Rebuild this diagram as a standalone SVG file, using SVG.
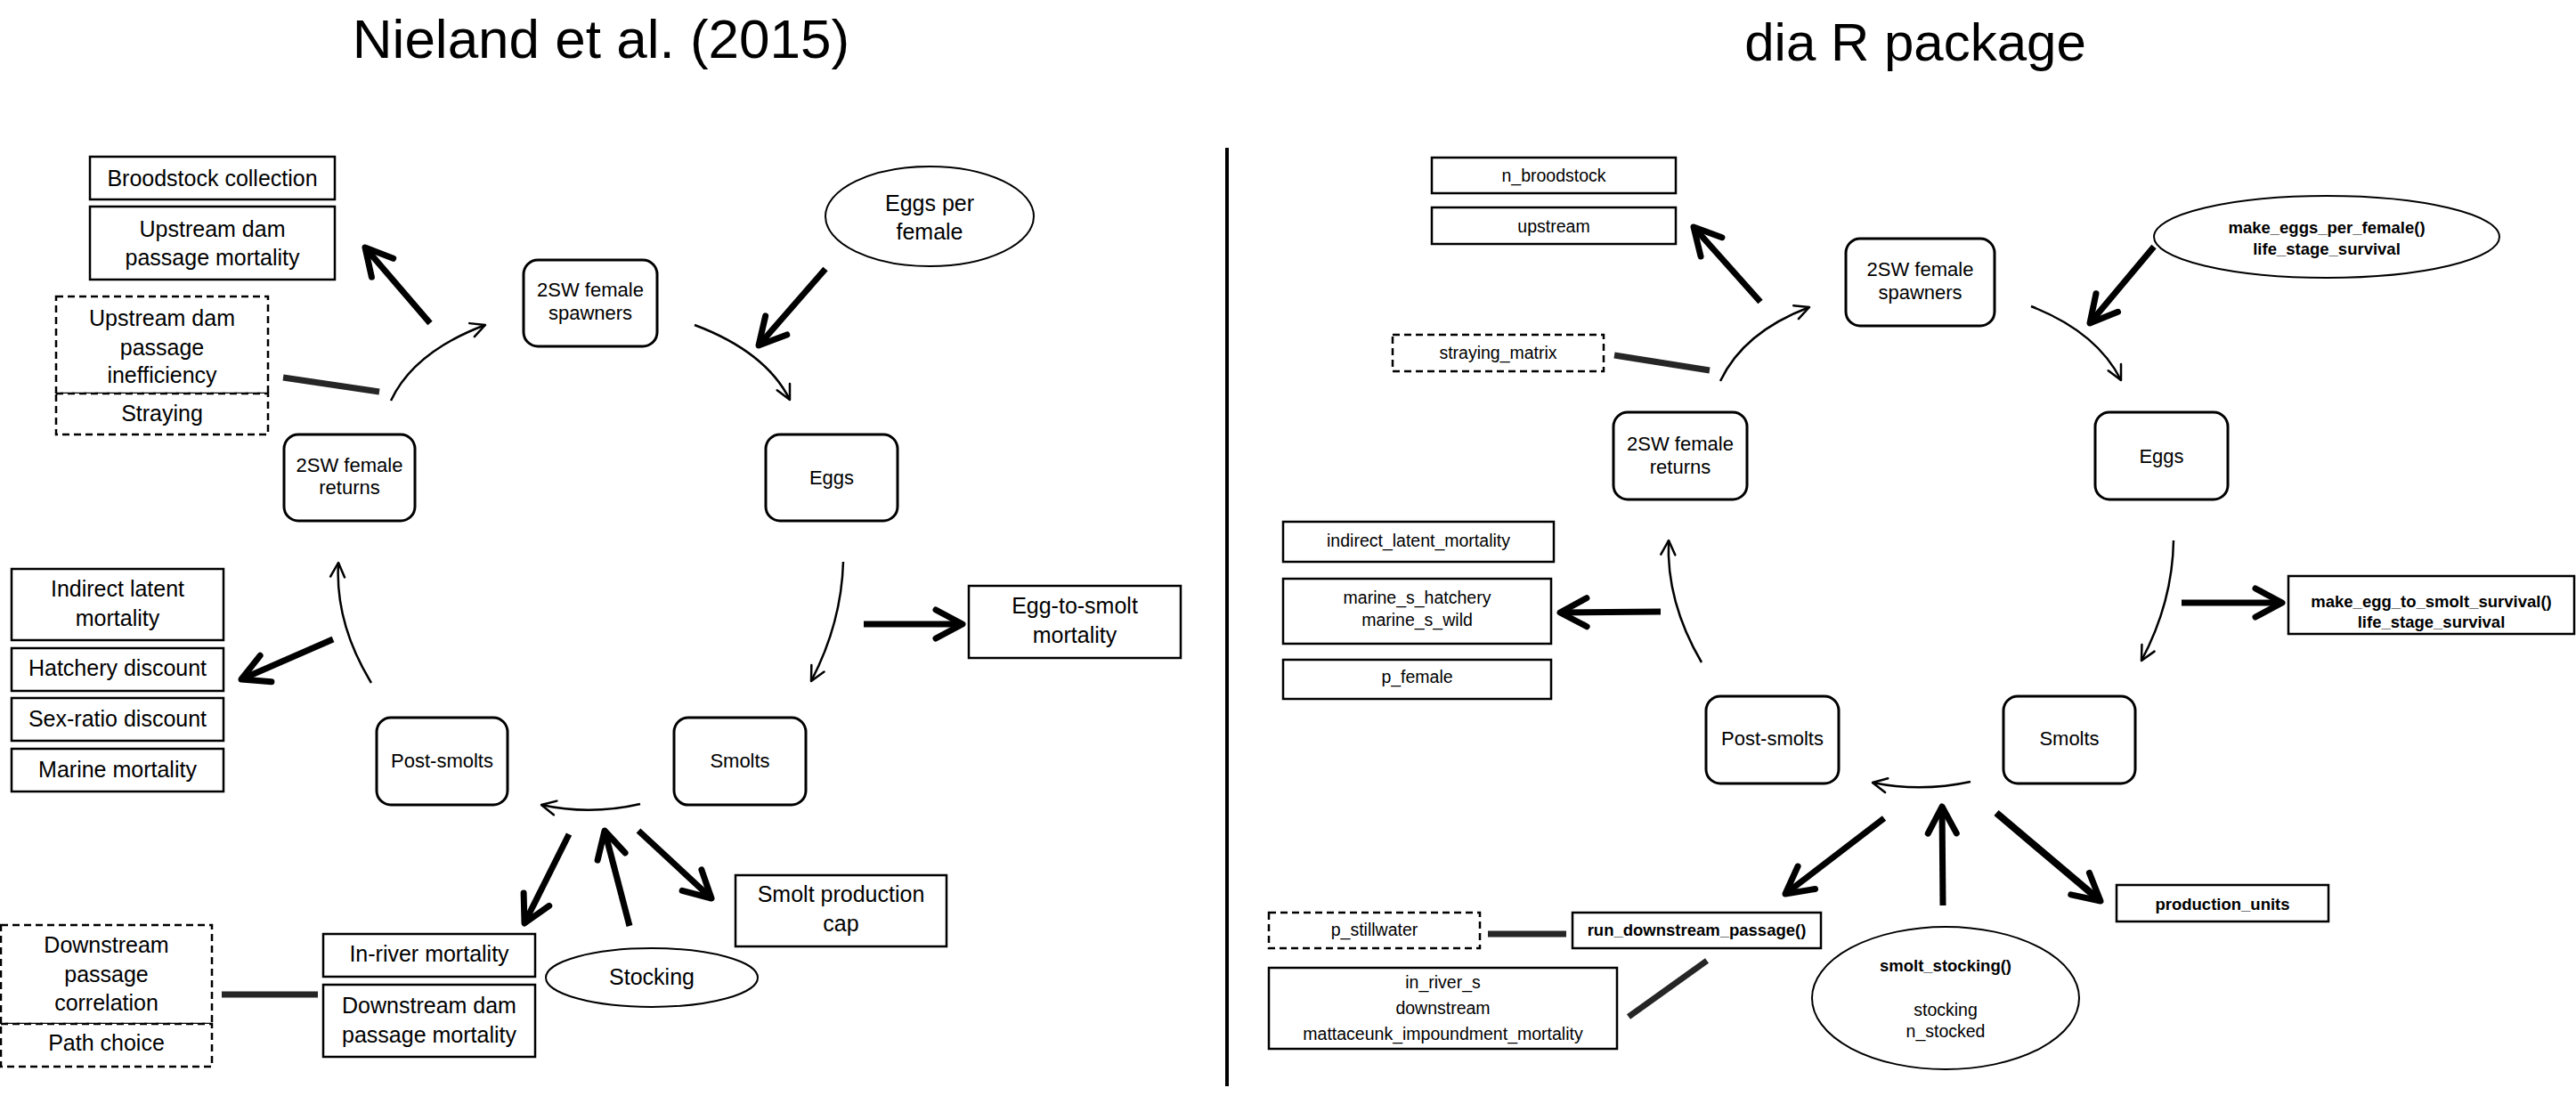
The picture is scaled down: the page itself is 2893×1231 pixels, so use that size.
<svg xmlns="http://www.w3.org/2000/svg" width="2893" height="1231" viewBox="0 0 2893 1231">
<defs>
<style>
text{font-family:"Liberation Sans",Arial,sans-serif;fill:#000;text-anchor:middle}
.t{font-size:62px}
.l{font-size:25px}
.n{font-size:22px}
.r{font-size:19.5px}
.b{font-size:18.5px;font-weight:bold}
.box{fill:#fff;stroke:#000;stroke-width:2.5}
.rnd{fill:#fff;stroke:#000;stroke-width:3}
.dash{fill:#fff;stroke:#000;stroke-width:2.5;stroke-dasharray:8 5}
.ell{fill:#fff;stroke:#000;stroke-width:2}
.thin{fill:none;stroke:#000;stroke-width:2.5;marker-end:url(#ahThin)}
.thick{fill:none;stroke:#000;stroke-width:7;marker-end:url(#ahThick)}
.bar{fill:none;stroke:#262626;stroke-width:7}
</style>
<marker id="ahThick" markerUnits="userSpaceOnUse" orient="auto" markerWidth="50" markerHeight="60" viewBox="-40 -30 50 60" refX="0" refY="0" overflow="visible">
<path d="M-30,-16 L0,0 L-30,16" fill="none" stroke="#000" stroke-width="7" stroke-linecap="round" stroke-linejoin="round"/>
</marker>
<marker id="ahThin" markerUnits="userSpaceOnUse" orient="auto" markerWidth="30" markerHeight="30" viewBox="-20 -15 30 30" refX="0" refY="0" overflow="visible">
<path d="M-16,-8 L0,0 L-16,8" fill="none" stroke="#000" stroke-width="2.5" stroke-linecap="round" stroke-linejoin="round"/>
</marker>
</defs>
<rect width="2893" height="1231" fill="#fff"/>

<text class="t" x="675" y="65">Nieland et al. (2015)</text>
<text class="t" x="2151" y="68" style="font-size:60px">dia R package</text>
<line x1="1378" y1="166" x2="1378" y2="1220" stroke="#000" stroke-width="4"/>

<g id="connectors">
<path class="thin" d="M439,450 Q465,395 545,365"/>
<path class="thin" d="M780,365 Q860,395 887,449"/>
<path class="thin" d="M417,767 Q376,700 380,632"/>
<path class="thin" d="M947,631 Q945,700 911,765"/>
<path class="thin" d="M719,903 Q663,916 608,904"/>
<path class="thick" d="M483,363 L410,278"/>
<path class="thick" d="M927,302 L852,388"/>
<path class="bar" d="M318,424 L426,440"/>
<path class="thick" d="M374,718 L271,763"/>
<path class="thick" d="M970,701 L1081,701"/>
<path class="thick" d="M639,937 L589,1037"/>
<path class="thick" d="M707,1040 L679,933"/>
<path class="thick" d="M717,933 L799,1009"/>
<path class="bar" d="M249,1117 L357,1117"/>

<path class="thin" d="M1932,428 Q1958,373 2032,345"/>
<path class="thin" d="M2281,344 Q2355,373 2382,427"/>
<path class="thin" d="M1911,744 Q1871,676 1874,607"/>
<path class="thin" d="M2441,607 Q2440,676 2405,742"/>
<path class="thin" d="M2213,878 Q2158,890 2103,879"/>
<path class="thick" d="M1977,339 L1902,255"/>
<path class="thick" d="M2419,277 L2347,363"/>
<path class="bar" d="M1813,399 L1920,416"/>
<path class="thick" d="M1865,687 L1752,688"/>
<path class="thick" d="M2450,677 L2563,677"/>
<path class="thick" d="M2116,919 L2005,1004"/>
<path class="thick" d="M2182,1017 L2181,906"/>
<path class="thick" d="M2242,913 L2359,1012" style="stroke-width:8"/>
<path class="bar" d="M1671,1049 L1759,1049"/>
<path class="bar" d="M1829,1142 L1917,1079"/>
</g>

<!-- Left panel nodes -->
<g id="n-broodstock-collection"><rect class="box" x="101" y="176" width="275" height="48"/><text class="l" x="238.5" y="209">Broodstock collection</text></g>
<g id="n-upstream-dam-mortality"><rect class="box" x="101" y="232" width="275" height="82"/><text class="l" x="238.5" y="266">Upstream dam</text><text class="l" x="238.5" y="298">passage mortality</text></g>
<g id="n-upstream-inefficiency"><rect class="dash" x="63" y="333" width="238" height="109"/><text class="l" x="182" y="366">Upstream dam</text><text class="l" x="182" y="399">passage</text><text class="l" x="182" y="430">inefficiency</text></g>
<g id="n-straying"><rect class="dash" x="63" y="442" width="238" height="46"/><text class="l" x="182" y="473">Straying</text></g>
<g id="n-spawners-l"><rect class="rnd" x="588" y="292" width="150" height="97" rx="16"/><text class="n" x="663" y="333">2SW female</text><text class="n" x="663" y="359">spawners</text></g>
<g id="n-eggs-per-female"><ellipse class="ell" cx="1044" cy="243" rx="117" ry="56"/><text class="l" x="1044" y="237">Eggs per</text><text class="l" x="1044" y="269">female</text></g>
<g id="n-eggs-l"><rect class="rnd" x="860" y="488" width="148" height="97" rx="16"/><text class="n" x="934" y="544">Eggs</text></g>
<g id="n-returns-l"><rect class="rnd" x="319" y="488" width="147" height="97" rx="16"/><text class="n" x="392.5" y="530">2SW female</text><text class="n" x="392.5" y="555">returns</text></g>
<g id="n-indirect-latent"><rect class="box" x="13" y="639" width="238" height="80"/><text class="l" x="132" y="670">Indirect latent</text><text class="l" x="132" y="703">mortality</text></g>
<g id="n-hatchery-discount"><rect class="box" x="13" y="728" width="238" height="48"/><text class="l" x="132" y="759">Hatchery discount</text></g>
<g id="n-sex-ratio"><rect class="box" x="13" y="784" width="238" height="48"/><text class="l" x="132" y="816">Sex-ratio discount</text></g>
<g id="n-marine-mortality"><rect class="box" x="13" y="841" width="238" height="48"/><text class="l" x="132" y="873">Marine mortality</text></g>
<g id="n-egg-to-smolt"><rect class="box" x="1088" y="658" width="238" height="81"/><text class="l" x="1207" y="689">Egg-to-smolt</text><text class="l" x="1207" y="722">mortality</text></g>
<g id="n-postsmolts-l"><rect class="rnd" x="423" y="806" width="147" height="98" rx="16"/><text class="n" x="496.5" y="862">Post-smolts</text></g>
<g id="n-smolts-l"><rect class="rnd" x="757" y="806" width="148" height="98" rx="16"/><text class="n" x="831" y="862">Smolts</text></g>
<g id="n-smolt-cap"><rect class="box" x="826" y="983" width="237" height="80"/><text class="l" x="944.5" y="1013">Smolt production</text><text class="l" x="944.5" y="1046">cap</text></g>
<g id="n-in-river"><rect class="box" x="363" y="1049" width="238" height="48"/><text class="l" x="482" y="1080">In-river mortality</text></g>
<g id="n-downstream-dam"><rect class="box" x="363" y="1106" width="238" height="81"/><text class="l" x="482" y="1138">Downstream dam</text><text class="l" x="482" y="1171">passage mortality</text></g>
<g id="n-stocking"><ellipse class="ell" cx="732" cy="1098" rx="119" ry="33"/><text class="l" x="732" y="1106">Stocking</text></g>
<g id="n-downstream-correlation"><rect class="dash" x="1" y="1039" width="237" height="111"/><text class="l" x="119.5" y="1070">Downstream</text><text class="l" x="119.5" y="1103">passage</text><text class="l" x="119.5" y="1135">correlation</text></g>
<g id="n-path-choice"><rect class="dash" x="1" y="1150" width="237" height="48"/><text class="l" x="119.5" y="1180">Path choice</text></g>

<!-- Right panel nodes -->
<g id="n-n-broodstock"><rect class="box" x="1608" y="177" width="274" height="40"/><text class="r" x="1745" y="204">n_broodstock</text></g>
<g id="n-upstream"><rect class="box" x="1608" y="233" width="274" height="41"/><text class="r" x="1745" y="261">upstream</text></g>
<g id="n-spawners-r"><rect class="rnd" x="2073" y="268" width="167" height="98" rx="16"/><text class="n" x="2156.5" y="310">2SW female</text><text class="n" x="2156.5" y="336">spawners</text></g>
<g id="n-make-eggs"><ellipse class="ell" cx="2613" cy="266" rx="194" ry="46"/><text class="b" x="2613" y="262">make_eggs_per_female()</text><text class="b" x="2613" y="286">life_stage_survival</text></g>
<g id="n-straying-matrix"><rect class="dash" x="1564" y="376" width="237" height="41"/><text class="r" x="1682.5" y="403">straying_matrix</text></g>
<g id="n-returns-r"><rect class="rnd" x="1812" y="463" width="150" height="98" rx="16"/><text class="n" x="1887" y="506">2SW female</text><text class="n" x="1887" y="532">returns</text></g>
<g id="n-eggs-r"><rect class="rnd" x="2353" y="463" width="149" height="98" rx="16"/><text class="n" x="2427.5" y="520">Eggs</text></g>
<g id="n-indirect-latent-r"><rect class="box" x="1441" y="586" width="304" height="45"/><text class="r" x="1593" y="614">indirect_latent_mortality</text></g>
<g id="n-marine-s"><rect class="box" x="1441" y="650" width="301" height="73"/><text class="r" x="1591.5" y="678">marine_s_hatchery</text><text class="r" x="1591.5" y="703">marine_s_wild</text></g>
<g id="n-p-female"><rect class="box" x="1441" y="741" width="301" height="44"/><text class="r" x="1591.5" y="767">p_female</text></g>
<g id="n-make-egg-to-smolt"><rect class="box" x="2570" y="647" width="321" height="65"/><text class="b" x="2730.5" y="682">make_egg_to_smolt_survival()</text><text class="b" x="2730.5" y="705">life_stage_survival</text></g>
<g id="n-postsmolts-r"><rect class="rnd" x="1916" y="782" width="149" height="98" rx="16"/><text class="n" x="1990.5" y="837">Post-smolts</text></g>
<g id="n-smolts-r"><rect class="rnd" x="2250" y="782" width="148" height="98" rx="16"/><text class="n" x="2324" y="837">Smolts</text></g>
<g id="n-production-units"><rect class="box" x="2377" y="994" width="238" height="41"/><text class="b" x="2496" y="1022">production_units</text></g>
<g id="n-run-downstream"><rect class="box" x="1766" y="1025" width="279" height="40"/><text class="b" x="1905.5" y="1051">run_downstream_passage()</text></g>
<g id="n-p-stillwater"><rect class="dash" x="1425" y="1025" width="237" height="40"/><text class="r" x="1543.5" y="1051">p_stillwater</text></g>
<g id="n-in-river-s"><rect class="box" x="1425" y="1087" width="391" height="91"/><text class="r" x="1620.5" y="1110">in_river_s</text><text class="r" x="1620.5" y="1139">downstream</text><text class="r" x="1620.5" y="1168">mattaceunk_impoundment_mortality</text></g>
<g id="n-smolt-stocking"><ellipse class="ell" cx="2185" cy="1121" rx="150" ry="80"/><text class="b" x="2185" y="1091">smolt_stocking()</text><text class="r" x="2185" y="1141">stocking</text><text class="r" x="2185" y="1165">n_stocked</text></g>
</svg>
